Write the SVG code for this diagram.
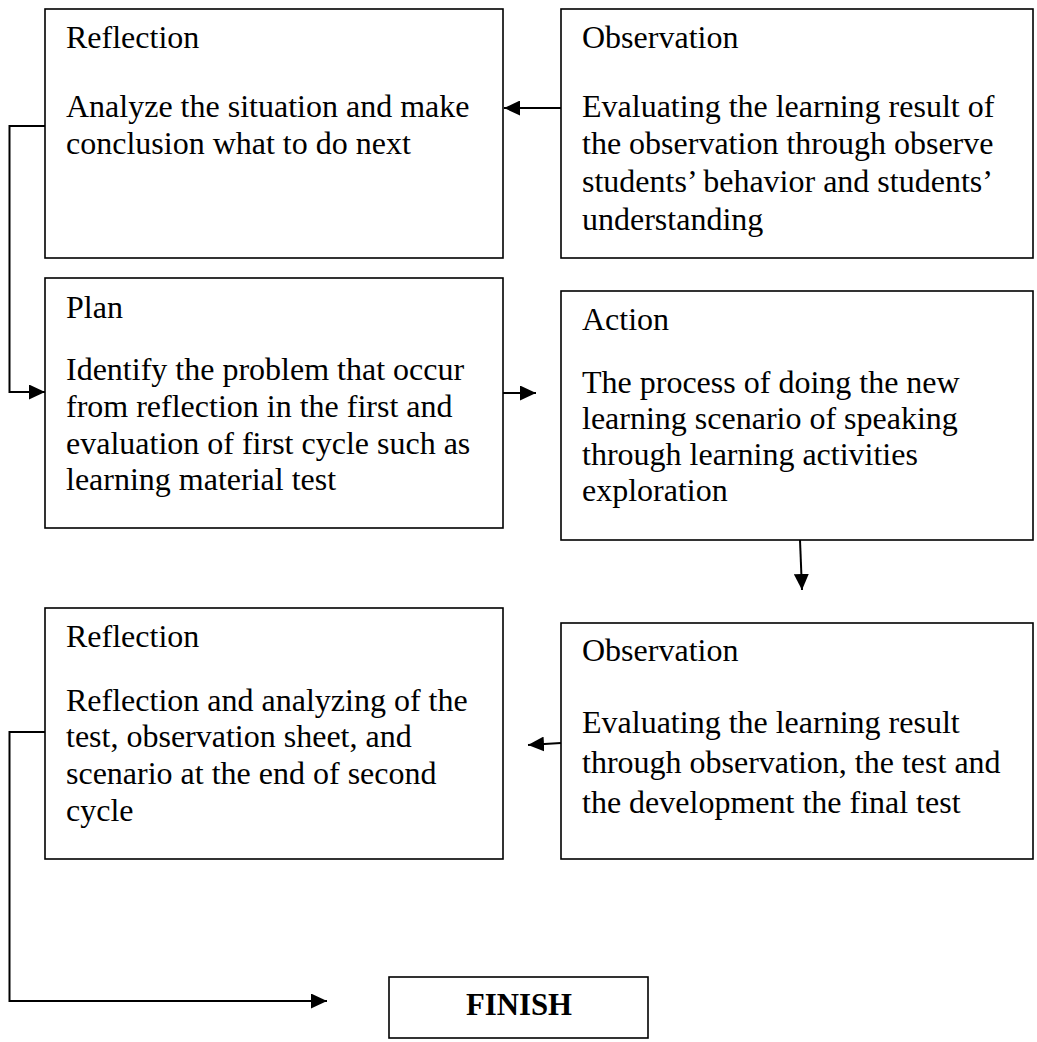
<svg xmlns="http://www.w3.org/2000/svg" width="1037" height="1042" viewBox="0 0 1037 1042">
<defs>
<style>
.box{fill:#fff;stroke:#000;stroke-width:1.6}
.t{font-family:"Liberation Serif","Times New Roman",serif;font-size:32px;fill:#000}
.b{font-weight:bold}
.c{fill:none;stroke:#000;stroke-width:2}
</style>
<marker id="ah" viewBox="0 0 16 15" refX="16" refY="7.5" markerWidth="16" markerHeight="15" markerUnits="userSpaceOnUse" orient="auto">
<path d="M0,0 L16,7.5 L0,15 z" fill="#000"/>
</marker>
</defs>
<rect width="1037" height="1042" fill="#fff"/>
<g id="reflection1">
<rect class="box" x="45" y="9" width="458" height="249"/>
<text class="t" x="66" y="48">Reflection</text>
<text class="t" x="66" y="117">Analyze the situation and make</text>
<text class="t" x="66" y="154">conclusion what to do next</text>
</g>
<g id="observation1">
<rect class="box" x="561" y="9" width="472" height="249"/>
<text class="t" x="582" y="48">Observation</text>
<text class="t" x="582" y="117">Evaluating the learning result of</text>
<text class="t" x="582" y="154">the observation through observe</text>
<text class="t" x="582" y="192">students’ behavior and students’</text>
<text class="t" x="582" y="230">understanding</text>
</g>
<g id="plan">
<rect class="box" x="45" y="278" width="458" height="250"/>
<text class="t" x="66" y="318">Plan</text>
<text class="t" x="66" y="380">Identify the problem that occur</text>
<text class="t" x="66" y="417">from reflection in the first and</text>
<text class="t" x="66" y="454">evaluation of first cycle such as</text>
<text class="t" x="66" y="490">learning material test</text>
</g>
<g id="action">
<rect class="box" x="561" y="291" width="472" height="249"/>
<text class="t" x="582" y="330">Action</text>
<text class="t" x="582" y="393">The process of doing the new</text>
<text class="t" x="582" y="429">learning scenario of speaking</text>
<text class="t" x="582" y="465">through learning activities</text>
<text class="t" x="582" y="501">exploration</text>
</g>
<g id="reflection2">
<rect class="box" x="45" y="608" width="458" height="251"/>
<text class="t" x="66" y="647">Reflection</text>
<text class="t" x="66" y="711">Reflection and analyzing of the</text>
<text class="t" x="66" y="747">test, observation sheet, and</text>
<text class="t" x="66" y="784">scenario at the end of second</text>
<text class="t" x="66" y="821">cycle</text>
</g>
<g id="observation2">
<rect class="box" x="561" y="623" width="472" height="236"/>
<text class="t" x="582" y="661">Observation</text>
<text class="t" x="582" y="733">Evaluating the learning result</text>
<text class="t" x="582" y="773">through observation, the test and</text>
<text class="t" x="582" y="813">the development the final test</text>
</g>
<g id="finish">
<rect class="box" x="389" y="977" width="259" height="61"/>
<text class="t b" x="519" y="1015" text-anchor="middle" font-size="34" textLength="106" lengthAdjust="spacingAndGlyphs">FINISH</text>
</g>
<g id="connectors">
<path class="c" d="M561,108 H504" marker-end="url(#ah)"/>
<path class="c" d="M45,126 H9.5 V392 H45" marker-end="url(#ah)"/>
<path class="c" d="M503,393 H536" marker-end="url(#ah)"/>
<path class="c" d="M800,540 L802,590" marker-end="url(#ah)"/>
<path class="c" d="M561,743 L528,745" marker-end="url(#ah)"/>
<path class="c" d="M45,732 H9.5 V1001 H327" marker-end="url(#ah)"/>
</g>
</svg>
